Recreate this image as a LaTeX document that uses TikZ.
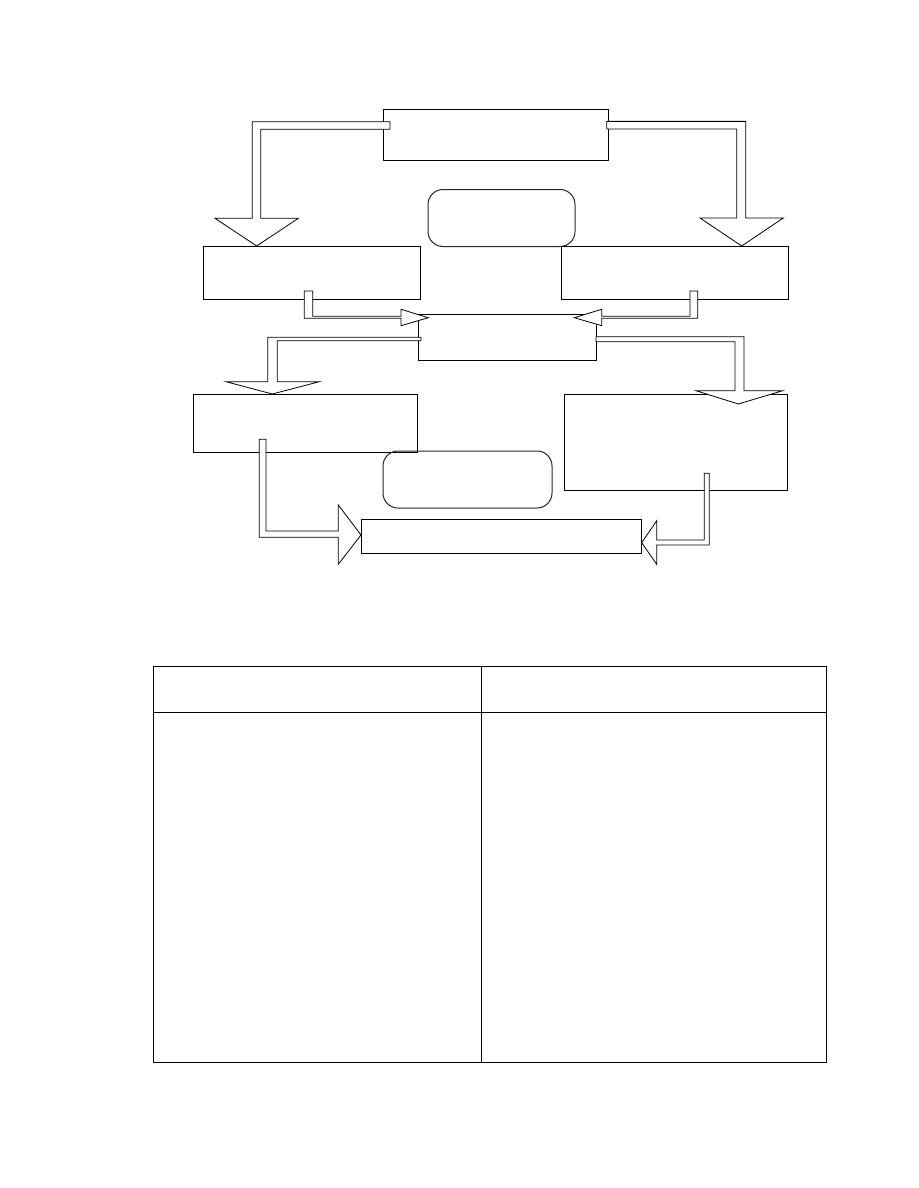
\documentclass[tikz,border=0pt]{standalone}
\usetikzlibrary{shapes.geometric,arrows,positioning,calc}
\begin{document}
\begin{tikzpicture}[x=1pt,y=-1pt]
\tikzstyle{box}=[rectangle,draw=black,line width=1pt,
inner sep=0pt,outer sep=0pt]
\tikzstyle{rbox}=[box,rounded corners=15pt,draw=black!85]
\tikzstyle{barrow}=[draw=black,fill=white,line width=0.8pt,line join=miter]
\tikzstyle{cell}=[box,anchor=north west]
\useasboundingbox (0,0) rectangle (918,1188);

% flow chart
\node[box,minimum width=225pt,minimum height=50pt] at (495.5,135) (top) {};
\node[rbox,minimum width=147pt,minimum height=57pt] at (501.5,218) (rnd1) {};
\node[box,minimum width=217pt,minimum height=53pt] at (311.5,272.5) (l1) {};
\node[box,minimum width=227pt,minimum height=53pt] at (674.5,272.5) (r1) {};
\node[box,minimum width=178pt,minimum height=46pt] at (507,337) (mid) {};
\node[box,minimum width=224pt,minimum height=58pt] at (305,423) (l2) {};
\node[box,minimum width=223pt,minimum height=96pt] at (675.5,442) (r2) {};
\node[rbox,minimum width=169pt,minimum height=57pt] at (467.5,479.5) (rnd2) {};
\node[box,minimum width=280pt,minimum height=34pt] at (501,536) (bot) {};

\draw[barrow] ($(l1.north)+(-54.8,0)$) -- ++(41.6,-27.7) -- ++(-37.6,0) -- ++(0,-89) -- ++(129.3,0) -- ++(0,-7.6) -- ++(-137.7,0) -- ++(0,96.6) -- ++(-37.3,0) -- cycle;
\draw[barrow] ($(r1.north)+(67.2,0)$) -- ++(41.6,-28) -- ++(-37.6,0) -- ++(0,-96.6) -- ++(-139,0) -- ++(0,7.6) -- ++(130,0) -- ++(0,89) -- ++(-36.7,0) -- cycle;
\draw[barrow] ($(mid.north west)+(10.3,3.7)$) -- ++(-27.3,8) -- ++(0,-7.4) -- ++(-96.7,0) -- ++(0,-27.3) -- ++(8.4,0) -- ++(0,25.3) -- ++(88.3,0) -- ++(0,-7) -- cycle;
\draw[barrow] ($(mid.north east)+(-21.7,3.7)$) -- ++(27.4,-8.4) -- ++(0,7) -- ++(88.3,0) -- ++(0,-25.3) -- ++(7.7,0) -- ++(0,27.3) -- ++(-96,0) -- ++(0,7.4) -- cycle;
\draw[barrow] ($(l2.north)+(-32.7,0)$) -- ++(47,-12.3) -- ++(-42,0) -- ++(0,-41) -- ++(143.7,0) -- ++(0,-3.4) -- ++(-153.3,0) -- ++(0,44.4) -- ++(-41.7,0) -- cycle;
\draw[barrow] ($(r2.north east)+(-48.7,10)$) -- ++(44.4,-13.3) -- ++(-38.7,0) -- ++(0,-54) -- ++(-148,0) -- ++(0,5) -- ++(139,0) -- ++(0,49) -- ++(-39,0) -- cycle;
\draw[barrow] ($(bot.west)+(0,-1)$) -- ++(-22.7,29.3) -- ++(0,-27) -- ++(-79,0) -- ++(0,-98) -- ++(6.7,0) -- ++(0,91.7) -- ++(72.3,0) -- ++(0,-26) -- cycle;
\draw[barrow] ($(bot.east)+(0.7,6.7)$) -- ++(15,-22) -- ++(0,19.3) -- ++(47.6,0) -- ++(0,-66.7) -- ++(5,0) -- ++(0,71.7) -- ++(-52.6,0) -- ++(0,19.3) -- cycle;

% table
\node[cell,minimum width=328pt,minimum height=46pt] at (153,666) (h1) {};
\node[cell,minimum width=345pt,minimum height=46pt,right=0pt of h1] (h2) {};
\node[cell,minimum width=328pt,minimum height=350pt,below=0pt of h1] (c1) {};
\node[cell,minimum width=345pt,minimum height=350pt,right=0pt of c1] (c2) {};

\end{tikzpicture}
\end{document}
